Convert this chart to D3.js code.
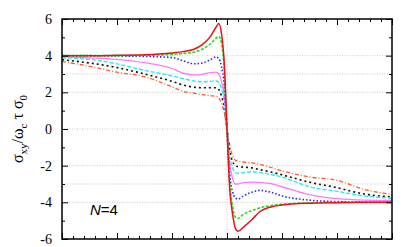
<!DOCTYPE html>
<html>
<head>
<meta charset="utf-8">
<script src="https://cdn.jsdelivr.net/npm/d3@7"></script>
<style>
  body { margin: 0; background: #fff; }
</style>
</head>
<body>
<script>
var width = 409;
var height = 247;

var margin = { left: 62, right: 16, top: 19, bottom: 8 };

// x positions shared by all curves
var xs = [-3, -2.5, -2, -1.5, -1, -0.8, -0.6, -0.45, -0.3, -0.2, -0.15, -0.1, -0.05, 0,
          0.05, 0.1, 0.15, 0.2, 0.3, 0.45, 0.6, 0.8, 1, 1.5, 2, 2.5, 3];

var redVals     = [4.0, 4.0, 4.02, 4.05, 4.15, 4.22, 4.35, 4.6, 5.05, 5.55, 5.75, 5.2, 3.6, 0,
                   -3.3, -4.6, -5.4, -5.58, -5.35, -4.95, -4.5, -4.25, -4.15, -4.05, -4.02, -4.0, -4.0];
var greenVals   = [4.0, 4.0, 4.0, 4.02, 4.07, 4.12, 4.2, 4.35, 4.65, 4.95, 5.05, 4.7, 3.2, 0,
                   -3.0, -4.2, -4.8, -4.88, -4.65, -4.45, -4.3, -4.18, -4.1, -4.03, -4.0, -4.0, -4.0];
var blueVals    = [4.0, 4.0, 3.98, 3.96, 3.9, 3.72, 3.56, 3.6, 3.78, 3.93, 3.85, 3.4, 2.4, 0,
                   -2.5, -3.4, -3.75, -3.82, -3.65, -3.45, -3.35, -3.45, -3.65, -3.88, -3.96, -3.99, -4.0];
var magentaVals = [3.93, 3.88, 3.8, 3.62, 3.3, 3.05, 2.95, 2.98, 3.08, 3.1, 3.0, 2.6, 1.8, 0,
                   -1.9, -2.7, -3.0, -3.0, -2.92, -2.9, -2.92, -2.98, -3.15, -3.58, -3.8, -3.88, -3.9];
var cyanVals    = [3.88, 3.8, 3.55, 3.2, 2.9, 2.75, 2.62, 2.58, 2.6, 2.62, 2.55, 2.2, 1.5, 0,
                   -1.5, -2.1, -2.38, -2.42, -2.38, -2.33, -2.38, -2.48, -2.62, -3.15, -3.4, -3.65, -3.78];
var blackVals   = [3.78, 3.6, 3.35, 3.0, 2.6, 2.4, 2.28, 2.25, 2.25, 2.25, 2.15, 1.8, 1.2, 0,
                   -1.2, -1.75, -2.0, -2.05, -2.08, -2.12, -2.22, -2.35, -2.5, -2.9, -3.2, -3.55, -3.7];
var orangeVals  = [3.68, 3.42, 3.1, 2.85, 2.3, 2.05, 1.95, 1.88, 1.82, 1.78, 1.7, 1.4, 0.9, 0,
                   -0.9, -1.45, -1.7, -1.75, -1.8, -1.85, -1.93, -2.1, -2.28, -2.62, -2.8, -3.3, -3.57];

var yTickLabels = [-6, -4, -2, 0, 2, 4, 6];
var gridLevels = [-4, -3, -2, 0, 2, 3, 4];

// drawn back to front
var series = [
    { vals: orangeVals,  color: "#ff5a28", dash: "4,2,1,2", w: 1.3 },
    { vals: blackVals,   color: "#111111", dash: "2,3",     w: 1.6 },
    { vals: cyanVals,    color: "#22eeee", dash: "4,2",     w: 1.4 },
    { vals: magentaVals, color: "#ff77ff", dash: null,      w: 1.3 },
    { vals: blueVals,    color: "#2a2aee", dash: "1.5,2",   w: 1.6 },
    { vals: greenVals,   color: "#22dd22", dash: "3,1.5",   w: 1.6 },
    { vals: redVals,     color: "#ee1111", dash: null,      w: 1.5 }
];

const svg = d3.select("body").append("svg")
    .attr("width", width)
    .attr("height", height);

var xScale = d3.scaleLinear([-3, 3], [margin.left, width - margin.right - 1]);
var yScale = d3.scaleLinear([-6, 6], [height - margin.bottom, margin.top]);

// grid
svg.append("g").selectAll("line")
    .data(gridLevels)
    .join("line")
        .attr("x1", xScale(-3)).attr("x2", xScale(3))
        .attr("y1", d => yScale(d)).attr("y2", d => yScale(d))
        .attr("stroke", "#bdbdbd")
        .attr("stroke-width", 0.8)
        .attr("stroke-dasharray", "1,1.5");

svg.append("line")
    .attr("x1", xScale(0)).attr("x2", xScale(0))
    .attr("y1", yScale(6)).attr("y2", yScale(-6))
    .attr("stroke", "#bdbdbd")
    .attr("stroke-width", 0.8)
    .attr("stroke-dasharray", "1,1.5");

// curves
var line = d3.line()
    .x((d, i) => xScale(xs[i]))
    .y(d => yScale(d))
    .curve(d3.curveMonotoneX);

svg.append("clipPath").attr("id", "plotclip")
    .append("rect")
    .attr("x", xScale(-3)).attr("y", yScale(6))
    .attr("width", xScale(3) - xScale(-3))
    .attr("height", yScale(-6) - yScale(6));

svg.append("g")
    .attr("clip-path", "url(#plotclip)")
    .selectAll("path")
    .data(series)
    .join("path")
        .attr("d", d => line(d.vals))
        .attr("fill", "none")
        .attr("stroke", d => d.color)
        .attr("stroke-width", d => d.w)
        .attr("stroke-dasharray", d => d.dash);

// axes, ticks pointing inward on all four sides
var xMajor = d3.range(-3, 3.001, 1);
var xMinor = d3.range(-3, 3.001, 0.2).filter(v => Math.abs(v - Math.round(v)) > 0.01);
var yMajor = yTickLabels;
var yMinor = d3.range(-5, 6, 2);

function noDomain(g) { g.selectAll(".domain").remove(); }

svg.append("g")
    .attr("transform", `translate(0, ${yScale(-6)})`)
    .call(d3.axisBottom(xScale).tickValues(xMajor).tickSize(-6).tickFormat(""))
    .call(noDomain);
svg.append("g")
    .attr("transform", `translate(0, ${yScale(-6)})`)
    .call(d3.axisBottom(xScale).tickValues(xMinor).tickSize(-3).tickFormat(""))
    .call(noDomain);
svg.append("g")
    .attr("transform", `translate(0, ${yScale(6)})`)
    .call(d3.axisTop(xScale).tickValues(xMajor).tickSize(-6).tickFormat(""))
    .call(noDomain);
svg.append("g")
    .attr("transform", `translate(0, ${yScale(6)})`)
    .call(d3.axisTop(xScale).tickValues(xMinor).tickSize(-3).tickFormat(""))
    .call(noDomain);

svg.append("g")
    .attr("class", "y-axis")
    .attr("transform", `translate(${xScale(-3)}, 0)`)
    .call(d3.axisLeft(yScale).tickValues(yMajor).tickSize(-6).tickPadding(10)
        .tickFormat(d => d < 0 ? "-" + Math.abs(d) : d))
    .call(noDomain)
    .call(g => g.selectAll("text")
        .attr("font-family", "'Liberation Serif', 'DejaVu Serif', serif")
        .attr("font-size", 14)
        .attr("fill", "#000"));
svg.append("g")
    .attr("transform", `translate(${xScale(-3)}, 0)`)
    .call(d3.axisLeft(yScale).tickValues(yMinor).tickSize(-3).tickFormat(""))
    .call(noDomain);
svg.append("g")
    .attr("transform", `translate(${xScale(3)}, 0)`)
    .call(d3.axisRight(yScale).tickValues(yMajor).tickSize(-6).tickFormat(""))
    .call(noDomain);
svg.append("g")
    .attr("transform", `translate(${xScale(3)}, 0)`)
    .call(d3.axisRight(yScale).tickValues(yMinor).tickSize(-3).tickFormat(""))
    .call(noDomain);

// frame
svg.append("rect")
    .attr("x", xScale(-3)).attr("y", yScale(6))
    .attr("width", xScale(3) - xScale(-3))
    .attr("height", yScale(-6) - yScale(6))
    .attr("fill", "none")
    .attr("stroke", "#000")
    .attr("stroke-width", 1.5);

// y label
var ylab = svg.append("text")
    .attr("transform", `translate(23, ${yScale(0)}) rotate(-90)`)
    .attr("text-anchor", "middle")
    .attr("font-family", "'Liberation Serif', 'DejaVu Serif', serif")
    .attr("font-size", 16)
    .attr("fill", "#000");
ylab.append("tspan").text("σ");
ylab.append("tspan").attr("font-size", 11).attr("dy", 4).text("xy");
ylab.append("tspan").attr("dy", -4).text("/ω");
ylab.append("tspan").attr("font-size", 11).attr("dy", 4).text("c");
ylab.append("tspan").attr("dy", -4).text(" τ σ");
ylab.append("tspan").attr("font-size", 11).attr("dy", 4).text("0");

// N=4 annotation
var ann = svg.append("text")
    .attr("x", 90)
    .attr("y", 215)
    .attr("font-family", "'Liberation Sans', Arial, sans-serif")
    .attr("font-size", 15)
    .attr("fill", "#000");
ann.append("tspan").attr("font-style", "italic").text("N");
ann.append("tspan").text("=4");
</script>
</body>
</html>
